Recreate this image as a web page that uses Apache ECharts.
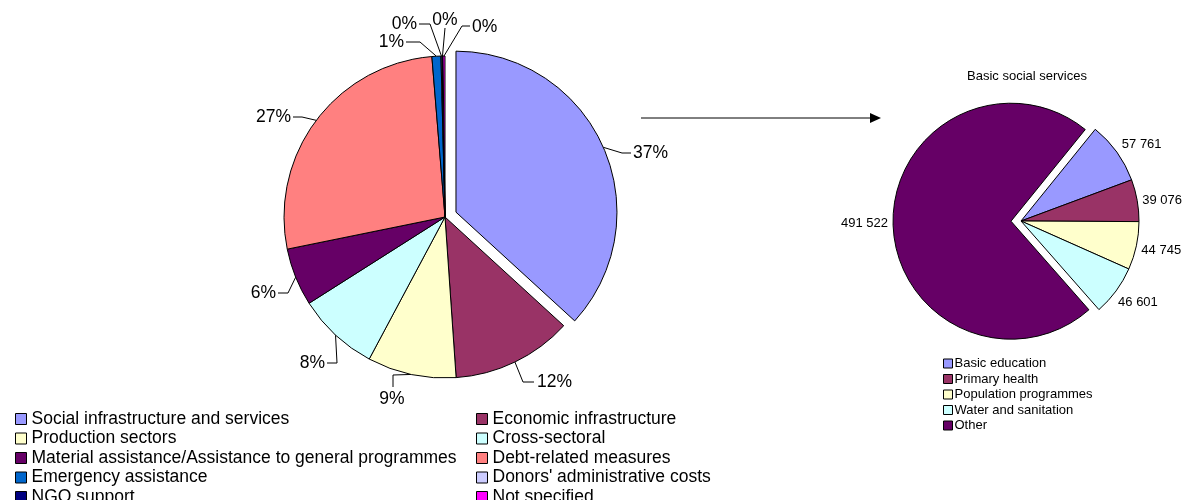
<!DOCTYPE html>
<html>
<head>
<meta charset="utf-8">
<script src="https://cdn.jsdelivr.net/npm/echarts@6/dist/echarts.min.js"></script>
<style>
  html, body { margin: 0; padding: 0; background: #fff; }
  #chart { width: 1183px; height: 500px; }
</style>
</head>
<body>
<div id="chart"></div>
<script>
// main pie: share of total (%)
const sectors = [
  'Social infrastructure and services', 'Economic infrastructure',
  'Production sectors', 'Cross-sectoral',
  'Material assistance/Assistance to general programmes', 'Debt-related measures',
  'Emergency assistance', "Donors' administrative costs",
  'NGO support', 'Not specified'
];
const sectorShares = [36.8, 12.1, 8.9, 8.2, 5.8, 26.9, 0.9, 0.1, 0.1, 0.2];
const sectorColors = ['#9999FF', '#993366', '#FFFFCC', '#CCFFFF', '#660066',
  '#FF8080', '#0066CC', '#CCCCFF', '#000080', '#FF00FF'];

// breakdown of basic social services
const basicItems = ['Basic education', 'Primary health', 'Population programmes',
  'Water and sanitation', 'Other'];
const basicValues = [57761, 39076, 44745, 46601, 491522];
const basicColors = ['#9999FF', '#993366', '#FFFFCC', '#CCFFFF', '#660066'];

const font = 'Liberation Sans, Arial, Helvetica, sans-serif';

function spaced(v) {
  return String(v).replace(/\B(?=(\d{3})+(?!\d))/g, ' ');
}

// Excel-style label spots for the main pie: text anchor + leader elbow/end
const mainSpots = [
  { x: 633, y: 153, align: 'left',   pts: [[622, 153], [631, 153]] },
  { x: 537, y: 382, align: 'left',   pts: [[523, 382], [534, 382]] },
  { x: 392, y: 399, align: 'center', pts: [[393, 375], [393, 387]] },
  { x: 325, y: 363, align: 'right',  pts: [[337, 363], [327, 363]] },
  { x: 276, y: 293, align: 'right',  pts: [[288, 293], [278, 293]] },
  { x: 291, y: 117, align: 'right',  pts: [[302, 117], [293, 117]] },
  { x: 404, y: 42,  align: 'right',  pts: [[420, 42], [406, 42]] },
  { x: 417, y: 24,  align: 'right',  pts: [[430, 24], [419, 24]] },
  { x: 445, y: 20,  align: 'center', pts: [[445, 28], [445, 28]] },
  { x: 472, y: 27,  align: 'left',   pts: [[462, 26], [470, 26]] }
];
// small shifts for the value labels of the second pie
const basicNudge = [[0, -8], [0, 0], [0, 5], [-3, 12], [0, 0]];

function mainLabels(params) {
  if (!params.labelLinePoints) return;
  const s = mainSpots[params.dataIndex];
  const edge = params.labelLinePoints[0];
  return {
    x: s.x, y: s.y, align: s.align, verticalAlign: 'middle',
    labelLinePoints: [edge, s.pts[0], s.pts[1]]
  };
}

function basicLabels(params) {
  const n = basicNudge[params.dataIndex];
  return { dx: n[0], dy: n[1] };
}

// the first slice is pulled out: drawn by a second pie whose centre is shifted
const mainCenter = [445, 217];
const pullOut = 12;
const total = sectorShares.reduce((a, b) => a + b, 0);
const midAng = sectorShares[0] / 2 / total * 2 * Math.PI;
const pulledCenter = [mainCenter[0] + pullOut * Math.sin(midAng),
                      mainCenter[1] - pullOut * Math.cos(midAng)];

const hidden = { itemStyle: { opacity: 0 }, label: { show: false }, labelLine: { show: false } };
const restData = sectors.map((n, i) => Object.assign(
  { name: n, value: sectorShares[i] },
  i === 0 ? hidden : { itemStyle: { color: sectorColors[i] } }));
const pulledData = sectors.map((n, i) => Object.assign(
  { name: n, value: sectorShares[i] },
  i === 0 ? { itemStyle: { color: sectorColors[i] } } : hidden));

const basicData = basicItems.map((n, i) => ({
  name: n,
  value: basicValues[i],
  selected: i === 4,
  itemStyle: { color: basicColors[i] }
}));

const chart = echarts.init(document.getElementById('chart'));

const legendCol = (idx, left) => ({
  orient: 'vertical',
  left: left,
  top: 405,
  height: 120,
  itemWidth: 11,
  itemHeight: 11,
  itemGap: 1.5,
  icon: 'rect',
  selectedMode: false,
  data: idx.map(i => ({ name: sectors[i], itemStyle: { color: sectorColors[i], opacity: 1 } })),
  itemStyle: { borderColor: '#000', borderWidth: 1 },
  textStyle: { fontFamily: font, fontSize: 17.5, color: '#000' }
});

const pieBase = {
  type: 'pie',
  radius: 161,
  startAngle: 90,
  clockwise: true,
  avoidLabelOverlap: false,
  itemStyle: { borderColor: '#000', borderWidth: 1 },
  emphasis: { disabled: true },
  label: {
    formatter: p => Math.round(p.value) + '%',
    fontFamily: font,
    fontSize: 17.5,
    color: '#000'
  },
  labelLine: {
    show: true,
    length: 14,
    length2: 10,
    lineStyle: { color: '#000', width: 1 }
  },
  labelLayout: mainLabels
};

chart.setOption({
  animation: false,
  title: {
    text: 'Basic social services',
    left: 1022,
    top: 65,
    textAlign: 'center',
    textStyle: { fontFamily: font, fontSize: 13, fontWeight: 'normal', color: '#000' }
  },
  legend: [
    legendCol([0, 2, 4, 6, 8], 10),
    legendCol([1, 3, 5, 7, 9], 471),
    {
      orient: 'vertical',
      left: 938,
      top: 352,
      itemWidth: 9,
      itemHeight: 9,
      itemGap: 2.5,
      icon: 'rect',
      selectedMode: false,
      data: basicItems,
      itemStyle: { borderColor: '#000', borderWidth: 1 },
      textStyle: { fontFamily: font, fontSize: 13, color: '#000', padding: [0, 0, 0, -3] }
    }
  ],
  graphic: [
    { type: 'line', shape: { x1: 641, y1: 118, x2: 872, y2: 118 }, style: { stroke: '#000', lineWidth: 1 } },
    { type: 'polygon', shape: { points: [[870, 113], [881, 118], [870, 123]] }, style: { fill: '#000' } }
  ],
  series: [
    Object.assign({}, pieBase, { center: mainCenter, data: restData }),
    Object.assign({}, pieBase, { center: pulledCenter, data: pulledData }),
    {
      type: 'pie',
      center: [1021, 221],
      radius: 118,
      startAngle: 51,
      clockwise: true,
      selectedMode: 'multiple',
      selectedOffset: 10,
      itemStyle: { borderColor: '#000', borderWidth: 1 },
      select: { itemStyle: { borderColor: '#000', borderWidth: 1 } },
      emphasis: { disabled: true },
      label: {
        formatter: p => spaced(p.value),
        fontFamily: font,
        fontSize: 13,
        color: '#000',
        overflow: 'none'
      },
      labelLine: { show: false, length: 0, length2: 0 },
      labelLayout: basicLabels,
      data: basicData
    }
  ]
});

window.addEventListener('resize', function () {
  chart.resize();
});
</script>
</body>
</html>
